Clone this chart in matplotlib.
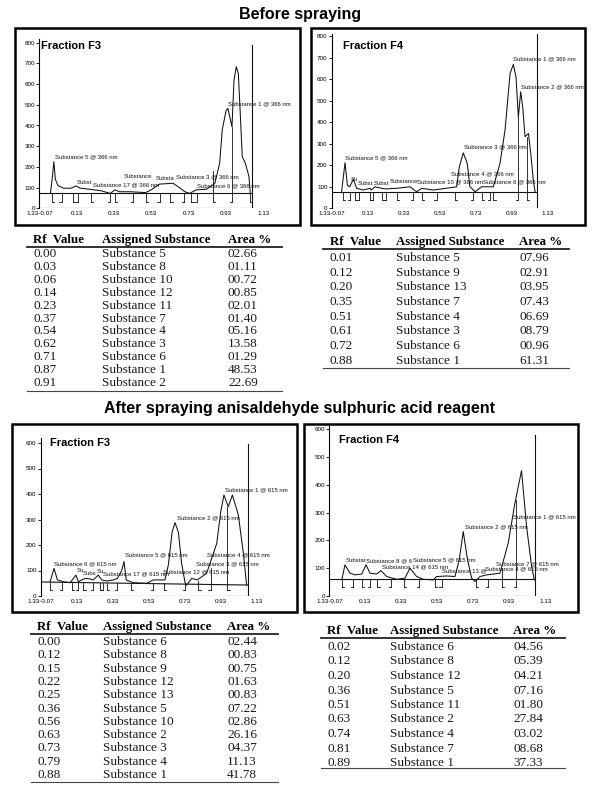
import matplotlib
matplotlib.use("Agg")
import matplotlib.pyplot as plt
from matplotlib.patches import Rectangle
from matplotlib.lines import Line2D

# ---------------------------------------------------------------- data
# chromatogram traces (Rf, absorbance units)
f3_before_x = [-0.01, 0.0, 0.008, 0.016, 0.03, 0.06, 0.10, 0.126, 0.15, 0.2, 0.26, 0.31, 0.335,
               0.36, 0.415, 0.50, 0.53, 0.575, 0.647, 0.68, 0.71, 0.735, 0.77, 0.825, 0.87,
               0.896, 0.91, 0.93, 0.94, 0.962, 0.973, 0.985, 0.996, 1.008, 1.017, 1.034, 1.053, 1.06]
f3_before_y = [75, 150, 225, 140, 110, 97, 97, 108, 97, 92, 85, 72, 89,
               80, 80, 76, 90, 117, 121, 100, 80, 72, 89, 92, 120,
               217, 380, 470, 483, 394, 620, 684, 652, 427, 250, 217, 153, 72]

f4_before_x = [-0.015, 0.004, 0.017, 0.03, 0.05, 0.069, 0.106, 0.143, 0.15, 0.17, 0.208, 0.23,
               0.291, 0.365, 0.402, 0.43, 0.495, 0.54, 0.624, 0.639, 0.661, 0.683, 0.698, 0.708,
               0.726, 0.763, 0.828, 0.865, 0.893, 0.921, 0.939, 0.954, 0.967, 0.98, 0.991, 1.004,
               1.023, 1.036, 1.05, 1.06]
f4_before_y = [77, 212, 108, 100, 135, 93, 85, 93, 85, 100, 93, 90,
               93, 100, 77, 93, 85, 90, 100, 193, 258, 209, 100, 93,
               77, 100, 100, 209, 364, 628, 669, 611, 425, 542, 472, 333,
               348, 255, 131, 77]

f3_after_x = [-0.018, 0.004, 0.023, 0.056, 0.093, 0.126, 0.139, 0.158, 0.176, 0.204, 0.222, 0.25,
              0.269, 0.297, 0.334, 0.356, 0.38, 0.393, 0.405, 0.445, 0.519, 0.556, 0.62, 0.639,
              0.66, 0.676, 0.695, 0.713, 0.732, 0.741, 0.769, 0.80, 0.852, 0.908, 0.93, 0.948,
              0.972, 0.995, 1.028, 1.056, 1.074]
f3_after_y = [56, 108, 63, 56, 52, 82, 56, 63, 69, 67, 63, 82,
              63, 59, 63, 69, 100, 135, 63, 52, 50, 63, 63, 121,
              250, 288, 250, 128, 52, 43, 69, 63, 89, 206, 330, 396,
              350, 396, 318, 167, 43]

f4_after_x = [0.0, 0.017, 0.045, 0.073, 0.11, 0.134, 0.156, 0.193, 0.217, 0.249, 0.304, 0.35,
              0.378, 0.415, 0.452, 0.508, 0.526, 0.582, 0.628, 0.652, 0.674, 0.698, 0.721, 0.739,
              0.767, 0.804, 0.878, 0.924, 0.96, 0.998, 1.026, 1.054, 1.069]
f4_after_y = [60, 112, 82, 76, 79, 112, 82, 79, 91, 70, 60, 64,
              100, 70, 60, 58, 70, 72, 70, 130, 232, 130, 64, 52,
              70, 76, 82, 190, 330, 451, 250, 106, 58]

# integration marks (Rf, height of the mark top)
f3_before_marks = [-0.004, 0.049, 0.108, 0.139, 0.205, 0.308, 0.335, 0.433, 0.499, 0.575,
                   0.632, 0.705, 0.745, 0.775, 0.861, 0.962, 1.057]
f3_before_tops = [75, 75, 75, 75, 75, 75, 75, 75, 75, 75, 75, 75, 75, 75, 180, 394, 75]
f4_before_marks = [-0.009, 0.032, 0.06, 0.084, 0.143, 0.161, 0.208, 0.232, 0.291, 0.384,
                   0.43, 0.513, 0.615, 0.717, 0.763, 0.81, 0.828, 0.967, 1.013]
f4_before_tops = [77, 77, 77, 77, 77, 77, 77, 77, 77, 77, 77, 77, 77, 77, 77, 77, 77, 425, 333]
f3_after_marks = [-0.018, 0.047, 0.102, 0.139, 0.167, 0.219, 0.26, 0.278, 0.297, 0.352,
                  0.43, 0.552, 0.615, 0.732, 0.806, 0.874, 0.967]
f3_after_tops = [52, 52, 52, 52, 52, 52, 52, 52, 52, 52, 52, 52, 52, 52, 60, 110, 350]
f4_after_marks = [-0.001, 0.063, 0.11, 0.156, 0.197, 0.271, 0.345, 0.43, 0.517, 0.554,
                  0.745, 0.813, 0.887, 0.967]
f4_after_tops = [60, 60, 60, 60, 60, 60, 60, 60, 60, 60, 60, 60, 100, 345]

# peak annotations
f3_before_labels = [("Substance 5 @ 366 nm", 0.014, 250), ("Subst", 0.13, 126),
                    ("Substance 17 @ 366 nm", 0.215, 112), ("Substance", 0.383, 152),
                    ("Substa", 0.554, 143), ("Substance 3 @ 366 nm", 0.661, 154),
                    ("Substance 6 @ 366 nm", 0.775, 110), ("Substance 1 @ 366 nm", 0.94, 507)]
f4_before_labels = [("Substance 5 @ 366 nm", 0.004, 237), ("Su", 0.036, 133), ("Subst", 0.074, 116),
                    ("Subst", 0.161, 116), ("Substance", 0.254, 124),
                    ("Substance 10 @ 366 nm", 0.406, 124), ("Substance 4 @ 366 nm", 0.591, 159),
                    ("Substance 3 @ 366 nm", 0.667, 286), ("Substance 6 @ 366 nm", 0.769, 124),
                    ("Substance 1 @ 366 nm", 0.939, 697), ("Substance 2 @ 366 nm", 0.982, 565)]
f3_after_labels = [("Substance 6 @ 615 nm", 0.004, 128), ("Su", 0.13, 99), ("Subs", 0.163, 89),
                   ("Su", 0.241, 95), ("Substance 17 @ 615 nm", 0.278, 86),
                   ("Substance 5 @ 615 nm", 0.399, 161), ("Substance 12 @ 615 nm", 0.611, 95),
                   ("Substance 3 @ 615 nm", 0.793, 125), ("Substance 4 @ 615 nm", 0.852, 161),
                   ("Substance 2 @ 615 nm", 0.686, 305), ("Substance 1 @ 615 nm", 0.954, 416)]
f4_after_labels = [("Substar", 0.023, 127), ("Substance 8 @ 6", 0.134, 127),
                   ("Substance 14 @ 615 nm", 0.221, 106), ("Substance 5 @ 615 nm", 0.393, 130),
                   ("Substance 13 @", 0.554, 90), ("Substance 4 @ 615 nm", 0.795, 96),
                   ("Substance 7 @ 615 nm", 0.856, 115), ("Substance 2 @ 615 nm", 0.684, 250),
                   ("Substance 1 @ 615 nm", 0.952, 286)]

rf_ticks = [-0.07, 0.13, 0.33, 0.53, 0.73, 0.93, 1.13]
rf_tick_labels = ["1.33-0.07", "0.13", "0.33", "0.53", "0.73", "0.93", "1.13"]

# tables
t1_rf = ["0.00", "0.03", "0.06", "0.14", "0.23", "0.37", "0.54", "0.62", "0.71", "0.87", "0.91"]
t1_sub = ["Substance 5", "Substance 8", "Substance 10", "Substance 12", "Substance 11", "Substance 7",
          "Substance 4", "Substance 3", "Substance 6", "Substance 1", "Substance 2"]
t1_area = ["02.66", "01.11", "00.72", "00.85", "02.01", "01.40", "05.16", "13.58", "01.29", "48.53", "22.69"]

t2_rf = ["0.01", "0.12", "0.20", "0.35", "0.51", "0.61", "0.72", "0.88"]
t2_sub = ["Substance 5", "Substance 9", "Substance 13", "Substance 7", "Substance 4", "Substance 3",
          "Substance 6", "Substance 1"]
t2_area = ["07.96", "02.91", "03.95", "07.43", "06.69", "08.79", "00.96", "61.31"]

t3_rf = ["0.00", "0.12", "0.15", "0.22", "0.25", "0.36", "0.56", "0.63", "0.73", "0.79", "0.88"]
t3_sub = ["Substance 6", "Substance 8", "Substance 9", "Substance 12", "Substance 13", "Substance 5",
          "Substance 10", "Substance 2", "Substance 3", "Substance 4", "Substance 1"]
t3_area = ["02.44", "00.83", "00.75", "01.63", "00.83", "07.22", "02.86", "26.16", "04.37", "11.13", "41.78"]

t4_rf = ["0.02", "0.12", "0.20", "0.36", "0.51", "0.63", "0.74", "0.81", "0.89"]
t4_sub = ["Substance 6", "Substance 8", "Substance 12", "Substance 5", "Substance 11", "Substance 2",
          "Substance 4", "Substance 7", "Substance 1"]
t4_area = ["04.56", "05.39", "04.21", "07.16", "01.80", "27.84", "03.02", "08.68", "37.33"]

# ---------------------------------------------------------------- figure
W, H = 600, 794
fig = plt.figure(figsize=(6, 7.94), dpi=100)
fig.patch.set_facecolor("white")

narrow = ["Liberation Sans Narrow", "Liberation Sans", "DejaVu Sans"]
ink = "#111111"


def fx(x):
    return x / W


def fy(y):
    return 1 - y / H


def frame(l, t, r, b):
    fig.add_artist(Rectangle((fx(l), fy(b)), fx(r - l), (b - t) / H, transform=fig.transFigure,
                             fill=False, lw=1.8, ec="black"))


def chromatogram(x0, y0, ppu, pp100, ytop, yticks, tx, ty, marks, tops, labels,
                 base, vline, vtop, foot, fraction, fpos):
    left = x0
    right = x0 + 1.27 * ppu
    top = y0 - ytop / 100 * pp100
    ax = fig.add_axes([fx(left), fy(y0), fx(right - left), (y0 - top) / H])
    ax.set_xlim(-0.07, 1.2)
    ax.set_ylim(0, ytop)
    for s in ["top", "right", "bottom"]:
        ax.spines[s].set_visible(False)
    ax.spines["left"].set_linewidth(0.8)
    ax.patch.set_alpha(0)
    ax.set_yticks(yticks)
    ax.set_yticklabels([str(v) for v in yticks], fontsize=4.5, family=narrow)
    ax.tick_params(axis="y", length=2, width=0.6, pad=1)
    ax.set_xticks(rf_ticks)
    ax.set_xticklabels(rf_tick_labels, fontsize=4.5, family=narrow)
    ax.tick_params(axis="x", length=0, pad=2)

    ax.plot(tx, ty, color=ink, lw=0.75)
    ax.plot([-0.07, vline], [0, 0], color=ink, lw=0.8)
    ax.plot([-0.07, vline], base, color=ink, lw=0.8)
    ax.plot([vline, vline], [0, vtop], color=ink, lw=0.8)
    for i, (m, h) in enumerate(zip(marks, tops)):
        d = 0.012 if i % 2 == 0 else -0.012
        ax.plot([m, m], [foot, h], color=ink, lw=0.6)
        ax.plot([m, m + d], [foot, foot], color=ink, lw=0.6)
    for txt, lx, ly in labels:
        ax.text(lx, ly, txt, fontsize=4.3, family=narrow, ha="left", va="center", color=ink,
                clip_on=False)
    fig.text(fx(fpos[0]), fy(fpos[1]), fraction, fontsize=8, fontweight="bold",
             family="Liberation Sans", ha="left", va="center")


def table(cols, y_head, y_line, y_first, step, rows, line_x, y_bottom, size=9.5):
    heads = ["Rf  Value", "Assigned Substance", "Area %"]
    for c, hd in zip(cols, heads):
        fig.text(fx(c), fy(y_head), hd, fontsize=size - 0.2, fontweight="bold",
                 family="Liberation Serif", ha="left", va="center")
    fig.add_artist(Line2D([fx(line_x[0]), fx(line_x[1])], [fy(y_line)] * 2,
                          transform=fig.transFigure, color="#222222", lw=1.3))
    for i, row in enumerate(zip(*rows)):
        for c, val in zip(cols, row):
            fig.text(fx(c), fy(y_first + i * step), val, fontsize=size,
                     family="Liberation Serif", ha="left", va="center", color="#1a1a1a")
    fig.add_artist(Line2D([fx(line_x[0]), fx(line_x[1])], [fy(y_bottom)] * 2,
                          transform=fig.transFigure, color="#444444", lw=0.8))


# section titles
fig.text(0.5, fy(15), "Before spraying", fontsize=11.5, fontweight="bold",
         family="Liberation Sans", ha="center", va="center")
fig.text(fx(299), fy(408), "After spraying anisaldehyde sulphuric acid reagent", fontsize=11.5,
         fontweight="bold", family="Liberation Sans", ha="center", va="center")

# panels
frame(15, 28, 300, 225)
chromatogram(39.3, 208.3, 186.7, 20.7, 820, list(range(0, 801, 100)), f3_before_x, f3_before_y,
             f3_before_marks, f3_before_tops, f3_before_labels, [75, 75], 1.067, 790, 32,
             "Fraction F3", (41, 46))

frame(311, 28, 585, 225)
chromatogram(331.7, 208.3, 180, 21.5, 810, list(range(0, 801, 100)), f4_before_x, f4_before_y,
             f4_before_marks, f4_before_tops, f4_before_labels, [77, 77], 1.073, 820, 39,
             "Fraction F4", (343, 46))

frame(12, 424, 297, 612)
chromatogram(40.7, 596, 180, 25.5, 620, list(range(0, 601, 100)), f3_after_x, f3_after_y,
             f3_after_marks, f3_after_tops, f3_after_labels, [55, 43], 1.08, 595, 25,
             "Fraction F3", (50, 443))

frame(304, 424, 578, 612)
chromatogram(329.3, 596, 180, 27.8, 610, list(range(0, 601, 100)), f4_after_x, f4_after_y,
             f4_after_marks, f4_after_tops, f4_after_labels, [60, 60], 1.073, 580, 31,
             "Fraction F4", (339, 440))

# tables
table([33, 102, 228], 240, 247, 254, 12.9, [t1_rf, t1_sub, t1_area], (27, 282), 391)
table([330, 396, 519], 242, 249, 258, 14.7, [t2_rf, t2_sub, t2_area], (323, 569), 368)
table([37, 103, 227], 627, 634, 642, 13.3, [t3_rf, t3_sub, t3_area], (31, 278), 782)
table([327, 390, 513], 631, 638, 647, 14.5, [t4_rf, t4_sub, t4_area], (321, 565), 768)

fig.savefig("out.png", dpi=100, facecolor="white")
